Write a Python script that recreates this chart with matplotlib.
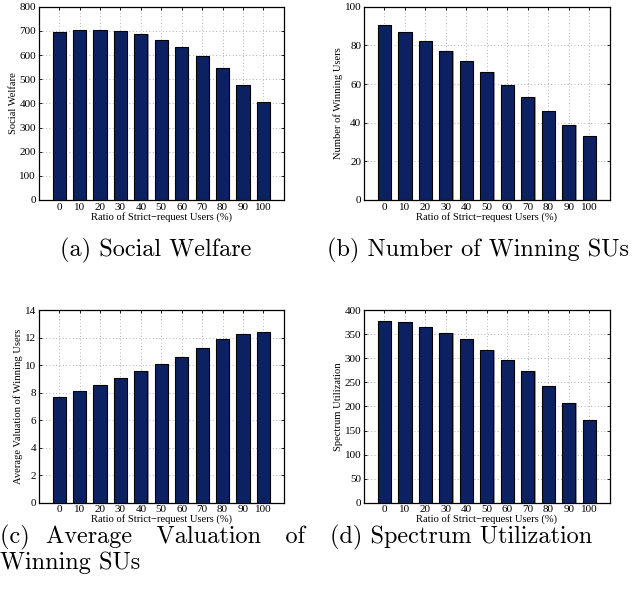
import matplotlib
matplotlib.use("Agg")
import matplotlib.pyplot as plt
import numpy as np

# --------------------------------------------------------------------
# Données
# --------------------------------------------------------------------
ratios = [0, 10, 20, 30, 40, 50, 60, 70, 80, 90, 100]
social_welfare = [696, 702, 702, 698, 685, 663, 633, 597, 546, 477, 405]
winning_users = [90.5, 87.1, 82.4, 77.2, 71.7, 66.4, 59.7, 53.4, 46.2, 39.0, 33.3]
avg_valuation = [7.72, 8.13, 8.57, 9.08, 9.56, 10.12, 10.63, 11.29, 11.94, 12.28, 12.4]
spectrum_util = [378.5, 375, 365, 353.6, 339.7, 318, 296, 274.5, 242.6, 207, 171]

ylabels = ["Social Welfare", "Number of Winning Users",
           "Average Valuation of Winning Users", "Spectrum Utilization"]
yticks = [np.arange(0, 801, 100), np.arange(0, 101, 20),
          np.arange(0, 15, 2), np.arange(0, 401, 50)]

BAR = "#0c2161"
TIMES = "Liberation Serif"
CM = "cmr10"

fig = plt.figure(figsize=(6.37, 5.94), dpi=100)

# positions des axes (fractions de la figure)
boxes = [
    [0.0607, 0.6633, 0.385, 0.3254],
    [0.5714, 0.6633, 0.386, 0.3254],
    [0.0607, 0.1537, 0.385, 0.3240],
    [0.5714, 0.1537, 0.386, 0.3240],
]
series = [social_welfare, winning_users, avg_valuation, spectrum_util]

x = np.arange(len(ratios))
for box, vals, yl, yt in zip(boxes, series, ylabels, yticks):
    ax = fig.add_axes(box)
    # ombre grise légère à droite des barres
    ax.bar(x + 0.06, vals, width=0.64, color="#9a9a9a", zorder=2, linewidth=0)
    ax.bar(x, vals, width=0.64, color=BAR, edgecolor="black",
           linewidth=0.8, zorder=3)
    ax.set_xlim(-1, 11)
    ax.set_ylim(yt[0], yt[-1])
    ax.set_xticks(x)
    ax.set_xticklabels([str(r) for r in ratios])
    ax.set_yticks(yt)
    ax.grid(True, linestyle=(0, (1, 3)), color="#999999", linewidth=0.6, zorder=0)
    ax.tick_params(direction="in", length=2.5, width=0.6, top=True,
                   right=True, labelsize=8, pad=2)
    for lab in ax.get_xticklabels() + ax.get_yticklabels():
        lab.set_fontfamily(TIMES)
    for s in ax.spines.values():
        s.set_linewidth(0.9)
    ax.set_xlabel("Ratio of Strict\u2212request Users (%)", fontsize=7.6,
                  fontfamily=TIMES, labelpad=0)
    ax.set_ylabel(yl, fontsize=7.6, fontfamily=TIMES, labelpad=1)

# légendes des sous-figures
cap = 17.5
fig.text(60 / 637, 1 - 250 / 594, "(a) Social Welfare", fontsize=cap,
         fontfamily=CM, ha="left", va="center")
fig.text(327 / 637, 1 - 250 / 594, "(b) Number of Winning SUs", fontsize=cap,
         fontfamily=CM, ha="left", va="center")
fig.text(0.0, 1 - 537 / 594, "(c)  Average   Valuation   of", fontsize=cap,
         fontfamily=CM, ha="left", va="center")
fig.text(0.0, 1 - 563 / 594, "Winning SUs", fontsize=cap,
         fontfamily=CM, ha="left", va="center")
fig.text(330 / 637, 1 - 537 / 594, "(d) Spectrum Utilization", fontsize=cap,
         fontfamily=CM, ha="left", va="center")

fig.savefig("out.png", dpi=100)
